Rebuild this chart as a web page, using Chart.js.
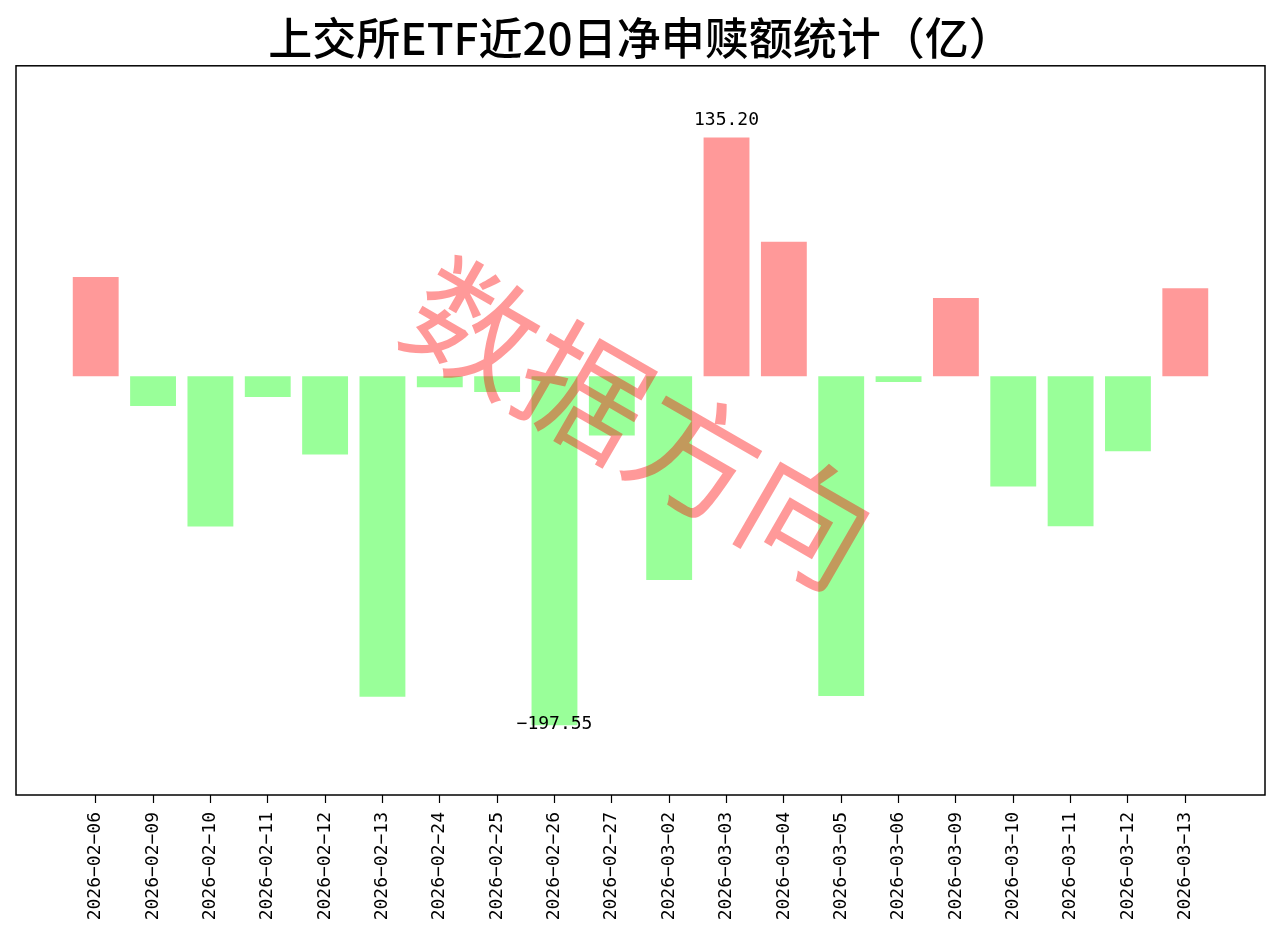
<!DOCTYPE html>
<html>
<head>
<meta charset="utf-8">
<script src="https://cdn.jsdelivr.net/npm/chart.js@4.4.1/dist/chart.umd.min.js"></script>
<style>
  html, body { margin: 0; padding: 0; background: #fff; }
  #wrap { width: 1280px; height: 939px; }
</style>
</head>
<body>
<div id="wrap"><canvas id="c" width="1280" height="939"></canvas></div>
<script>
// ---- data ----
const titleText = '上交所ETF近20日净申赎额统计（亿）';
const watermarkText = '数据方向';
const dates = [
  '2026-02-06','2026-02-09','2026-02-10','2026-02-11','2026-02-12',
  '2026-02-13','2026-02-24','2026-02-25','2026-02-26','2026-02-27',
  '2026-03-02','2026-03-03','2026-03-04','2026-03-05','2026-03-06',
  '2026-03-09','2026-03-10','2026-03-11','2026-03-12','2026-03-13'
];
const netFlow = [
  56.2, -16.9, -85.1, -11.7, -44.3,
  -181.5, -6.2, -8.9, -197.55, -33.5,
  -115.3, 135.20, 76.2, -181.0, -3.2,
  44.3, -62.4, -84.9, -42.4, 49.8
];

const posColor = 'rgba(255,0,0,0.4)';
const negColor = 'rgba(0,255,0,0.4)';
const FONT = '"Noto Sans CJK SC", "DejaVu Sans", sans-serif';
const MONO = '"DejaVu Sans Mono", "Liberation Mono", monospace';

const maxVal = Math.max(...netFlow);
const minVal = Math.min(...netFlow);
const maxIdx = netFlow.indexOf(maxVal);
const minIdx = netFlow.indexOf(minVal);

const points = netFlow.map((v, i) => ({ x: i, y: v }));
const xMargin = (dates.length - 1 + 0.8) * 0.05;

const framePlugin = {
  id: 'frame',
  afterDraw(chart) {
    const { ctx, chartArea: a } = chart;
    ctx.save();
    ctx.strokeStyle = '#000';
    ctx.lineWidth = 1.5;
    ctx.strokeRect(a.left, a.top, a.right - a.left, a.bottom - a.top);
    ctx.restore();
  }
};

const labelPlugin = {
  id: 'extremeLabels',
  afterDatasetsDraw(chart) {
    const { ctx, scales } = chart;
    ctx.save();
    ctx.fillStyle = '#000';
    ctx.font = '18px ' + MONO;
    ctx.textAlign = 'center';
    ctx.textBaseline = 'middle';
    ctx.fillText(maxVal.toFixed(2), scales.x.getPixelForValue(maxIdx), scales.y.getPixelForValue(maxVal) - 17);
    ctx.fillText(minVal.toFixed(2).replace('-', '\u2212'), scales.x.getPixelForValue(minIdx), scales.y.getPixelForValue(minVal) - 1);
    // watermark
    ctx.translate(640, 423);
    ctx.rotate(30 * Math.PI / 180);
    ctx.fillStyle = 'rgba(255,0,0,0.4)';
    ctx.font = '128px ' + FONT;
    ctx.textAlign = 'center';
    ctx.textBaseline = 'middle';
    ctx.fillText(watermarkText, 0, 0);
    ctx.restore();
  }
};

new Chart(document.getElementById('c'), {
  type: 'bar',
  data: {
    datasets: [{
      data: points,
      backgroundColor: netFlow.map(v => v >= 0 ? posColor : negColor),
      borderWidth: 0,
      categoryPercentage: 1.0,
      barPercentage: 0.8
    }]
  },
  options: {
    responsive: false,
    animation: false,
    events: [],
    layout: { padding: { left: 16, right: 15, top: 0, bottom: 0 } },
    plugins: {
      legend: { display: false },
      tooltip: { enabled: false },
      title: {
        display: true,
        text: titleText,
        color: '#000',
        font: { family: FONT, size: 44, weight: 500, lineHeight: 1.2 },
        padding: { top: 12, bottom: 1 }
      }
    },
    scales: {
      x: {
        type: 'linear',
        offset: false,
        min: -0.4 - xMargin,
        max: dates.length - 1 + 0.4 + xMargin,
        afterBuildTicks(axis) { axis.ticks = dates.map((d, i) => ({ value: i })); },
        afterFit(axis) { axis.height = 144; },
        grid: { display: true, offset: false, drawOnChartArea: false, drawTicks: true, tickLength: 8, tickColor: '#000', tickWidth: 1.2 },
        border: { display: false },
        ticks: {
          autoSkip: false,
          minRotation: 90,
          maxRotation: 90,
          padding: 9,
          color: '#000',
          font: { family: MONO, size: 18 },
          callback: (v) => dates[v] !== undefined ? dates[v].replace(/-/g, '\u2212') : ''
        }
      },
      y: {
        display: false,
        min: minVal * 1.2,
        max: maxVal * 1.3
      }
    }
  },
  plugins: [framePlugin, labelPlugin]
});
</script>
</body>
</html>
